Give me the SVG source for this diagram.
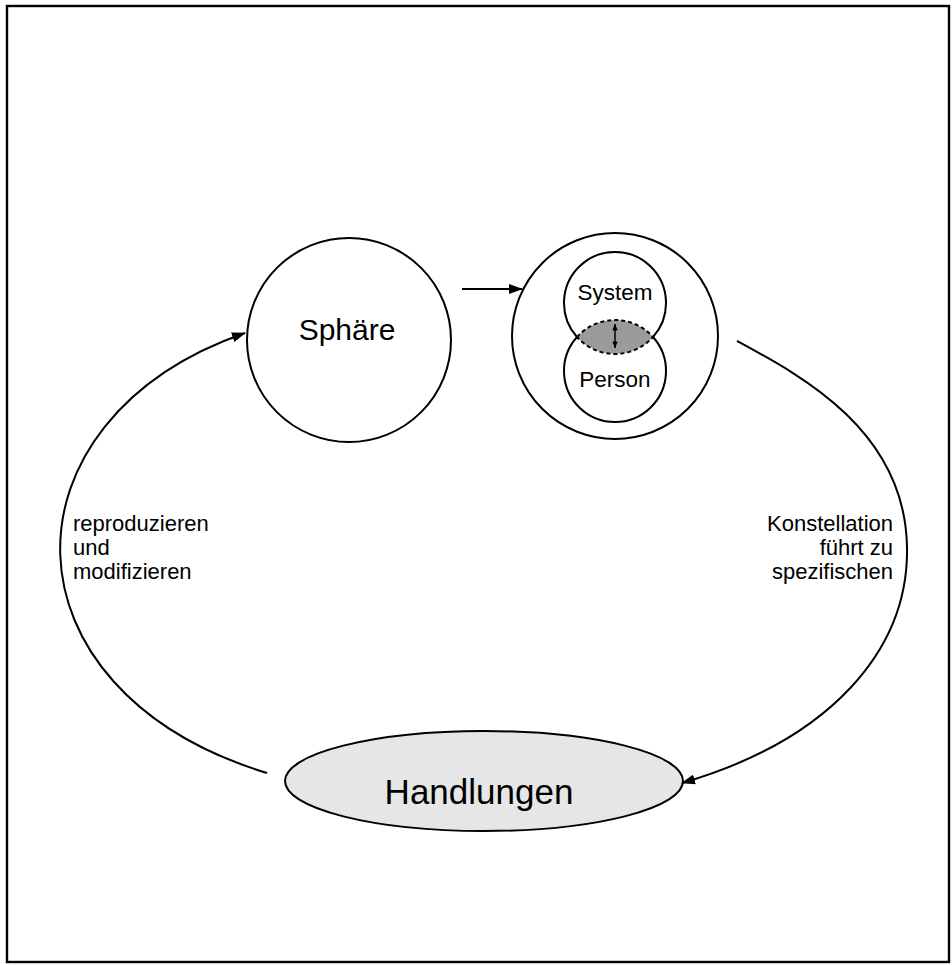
<svg xmlns="http://www.w3.org/2000/svg" width="952" height="965" viewBox="0 0 952 965">
  <style>
    .line { fill: none; stroke: #000; stroke-width: 2; }
    .node { fill: #fff; stroke: #000; stroke-width: 2; }
    .label { font-family: "Liberation Sans", Arial, Helvetica, sans-serif; fill: #000; }
    .note { font-size: 22px; }
  </style>
  <defs>
    <marker id="arrow" viewBox="0 0 14 10" refX="13" refY="5" markerWidth="14" markerHeight="10" markerUnits="userSpaceOnUse" orient="auto">
      <path d="M0,0 L14,5 L0,10 Z" fill="#000"/>
    </marker>
    <marker id="tiny" viewBox="0 0 8 6" refX="7.5" refY="3" markerWidth="7" markerHeight="6" markerUnits="userSpaceOnUse" orient="auto-start-reverse">
      <path d="M0,0 L8,3 L0,6 Z" fill="#000"/>
    </marker>
  </defs>

  <rect x="0" y="0" width="952" height="965" fill="#fff"/>
  <!-- frame -->
  <rect x="7" y="6" width="942" height="956" fill="none" stroke="#000" stroke-width="2.4"/>

  <!-- Sphäre -->
  <g id="sphaere">
    <circle class="node" cx="349" cy="340" r="102"/>
    <text class="label" x="347" y="340" font-size="30" text-anchor="middle">Sphäre</text>
  </g>

  <!-- constellation of system and person -->
  <g id="konstellation">
    <circle class="node" cx="615" cy="336" r="103"/>
    <path class="line" d="M577,337 A51,51 0 1 1 653,337"/>
    <path class="line" d="M653,337 A51,51 0 1 1 577,337"/>
    <path d="M577,337 A51,51 0 0 1 653,337 A51,51 0 0 1 577,337 Z" fill="#9b9b9b" stroke="#000" stroke-width="2" stroke-dasharray="4,3"/>
    <line x1="615" y1="324" x2="615" y2="348" stroke="#000" stroke-width="1.5" marker-start="url(#tiny)" marker-end="url(#tiny)"/>
    <text class="label" x="615" y="300" font-size="22.5" text-anchor="middle">System</text>
    <text class="label" x="615" y="387" font-size="22.5" text-anchor="middle">Person</text>
  </g>

  <!-- Handlungen -->
  <g id="handlungen">
    <ellipse cx="484" cy="781" rx="199" ry="50" fill="#e6e6e6" stroke="#000" stroke-width="2"/>
    <text class="label" x="479" y="804" font-size="35" text-anchor="middle">Handlungen</text>
  </g>

  <!-- connectors -->
  <g id="connectors">
    <line class="line" x1="462" y1="289" x2="522" y2="289" marker-end="url(#arrow)"/>
    <path class="line" d="M737,341 C800,375 905,430 907,547 C909,650 830,740 682,783" marker-end="url(#arrow)"/>
    <path class="line" d="M267,773 C-5,690 -5,420 245,333" marker-end="url(#arrow)"/>
  </g>

  <!-- connector labels -->
  <g id="labels">
    <text class="label note" x="73" y="531">reproduzieren</text>
    <text class="label note" x="73" y="555">und</text>
    <text class="label note" x="73" y="579">modifizieren</text>
    <text class="label note" x="893" y="531" text-anchor="end">Konstellation</text>
    <text class="label note" x="893" y="555" text-anchor="end">führt zu</text>
    <text class="label note" x="893" y="579" text-anchor="end">spezifischen</text>
  </g>
</svg>
